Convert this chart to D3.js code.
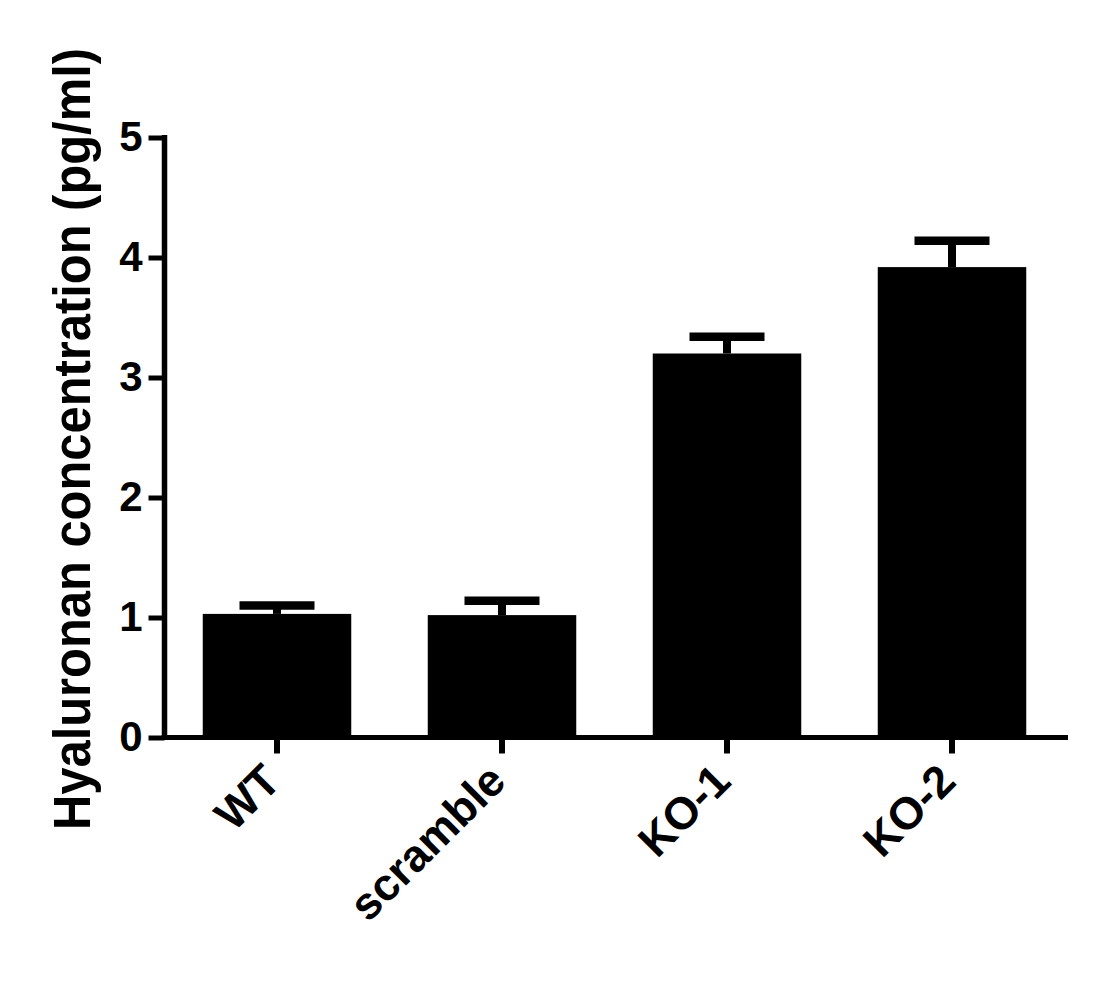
<!DOCTYPE html>
<meta charset="utf-8">
<script src="https://d3js.org/d3.v7.min.js"></script>
<style>
  body { margin: 0; background: #fff; }
  text { font-family: Arial, "Liberation Sans", sans-serif; font-weight: bold; }
</style>
<div id="my_dataviz"></div>
<script>
// data
var groups = ["WT", "scramble", "KO-1", "KO-2"];
var means = [1.03, 1.02, 3.20, 3.92];
var errTops = [1.10, 1.14, 3.34, 4.14];
var yTicks = [0, 1, 2, 3, 4, 5];
var yTitle = "Hyaluronan concentration (pg/ml)";

var W = 1095, H = 984;
var margin = {top: 137.5, right: 27, bottom: 246.5, left: 164.5};
var width = W - margin.left - margin.right,
    height = H - margin.top - margin.bottom;

var svg = d3.select("#my_dataviz")
  .append("svg")
    .attr("width", W)
    .attr("height", H)
  .append("g")
    .attr("transform", "translate(" + margin.left + "," + margin.top + ")");

// scales
var x = d3.scaleBand()
  .domain(groups)
  .range([0, 900])
  .paddingInner(0.34)
  .paddingOuter(0.17);

var y = d3.scaleLinear()
  .domain([0, 5])
  .range([height, 0]);

// bars
svg.selectAll("rect.bar")
  .data(groups)
  .enter()
  .append("rect")
    .attr("class", "bar")
    .attr("x", function(d){ return x(d) })
    .attr("width", x.bandwidth())
    .attr("y", function(d, i){ return y(means[i]) })
    .attr("height", function(d, i){ return height - y(means[i]) })
    .style("fill", "#000");

// error bars (upper only)
svg.selectAll("line.stem")
  .data(groups)
  .enter()
  .append("line")
    .attr("x1", function(d){ return x(d) + x.bandwidth()/2 })
    .attr("x2", function(d){ return x(d) + x.bandwidth()/2 })
    .attr("y1", function(d, i){ return y(means[i]) })
    .attr("y2", function(d, i){ return y(errTops[i]) })
    .attr("stroke", "#000")
    .attr("stroke-width", 8);

svg.selectAll("line.cap")
  .data(groups)
  .enter()
  .append("line")
    .attr("x1", function(d){ return x(d) + x.bandwidth()/2 - 37.5 })
    .attr("x2", function(d){ return x(d) + x.bandwidth()/2 + 37.5 })
    .attr("y1", function(d, i){ return y(errTops[i]) })
    .attr("y2", function(d, i){ return y(errTops[i]) })
    .attr("stroke", "#000")
    .attr("stroke-width", 8.5);

// y axis
var yAxis = svg.append("g")
  .call(d3.axisLeft(y).tickValues(yTicks).tickSize(16).tickPadding(6).tickFormat(d3.format("d")));
yAxis.select(".domain").remove();
yAxis.append("line")
  .attr("x1", 0).attr("x2", 0)
  .attr("y1", -2.5).attr("y2", height + 2.5)
  .attr("stroke", "#000").attr("stroke-width", 5.5);
yAxis.selectAll(".tick line").attr("stroke-width", 5);
yAxis.selectAll(".tick text")
  .style("font-size", "42px")
  .attr("fill", "#000");

// x axis
var xAxis = svg.append("g")
  .attr("transform", "translate(0," + height + ")")
  .call(d3.axisBottom(x).tickSize(16).tickSizeOuter(0));
xAxis.select(".domain").remove();
xAxis.append("line")
  .attr("x1", -2.75).attr("x2", 1068 - margin.left)
  .attr("y1", 0).attr("y2", 0)
  .attr("stroke", "#000").attr("stroke-width", 5);
xAxis.selectAll(".tick line").attr("stroke-width", 6);
xAxis.selectAll(".tick text")
  .style("font-size", "45px")
  .attr("fill", "#000")
  .attr("y", 0)
  .attr("dy", 0)
  .style("text-anchor", "end")
  .attr("transform", "translate(6,46)rotate(-45)");

// y title
svg.append("text")
  .attr("transform", "rotate(-90)")
  .attr("x", -(830 - margin.top))
  .attr("y", 89.5 - margin.left)
  .style("text-anchor", "start")
  .style("font-size", "51px")
  .attr("textLength", 782)
  .attr("lengthAdjust", "spacingAndGlyphs")
  .attr("fill", "#000")
  .text(yTitle);
</script>
